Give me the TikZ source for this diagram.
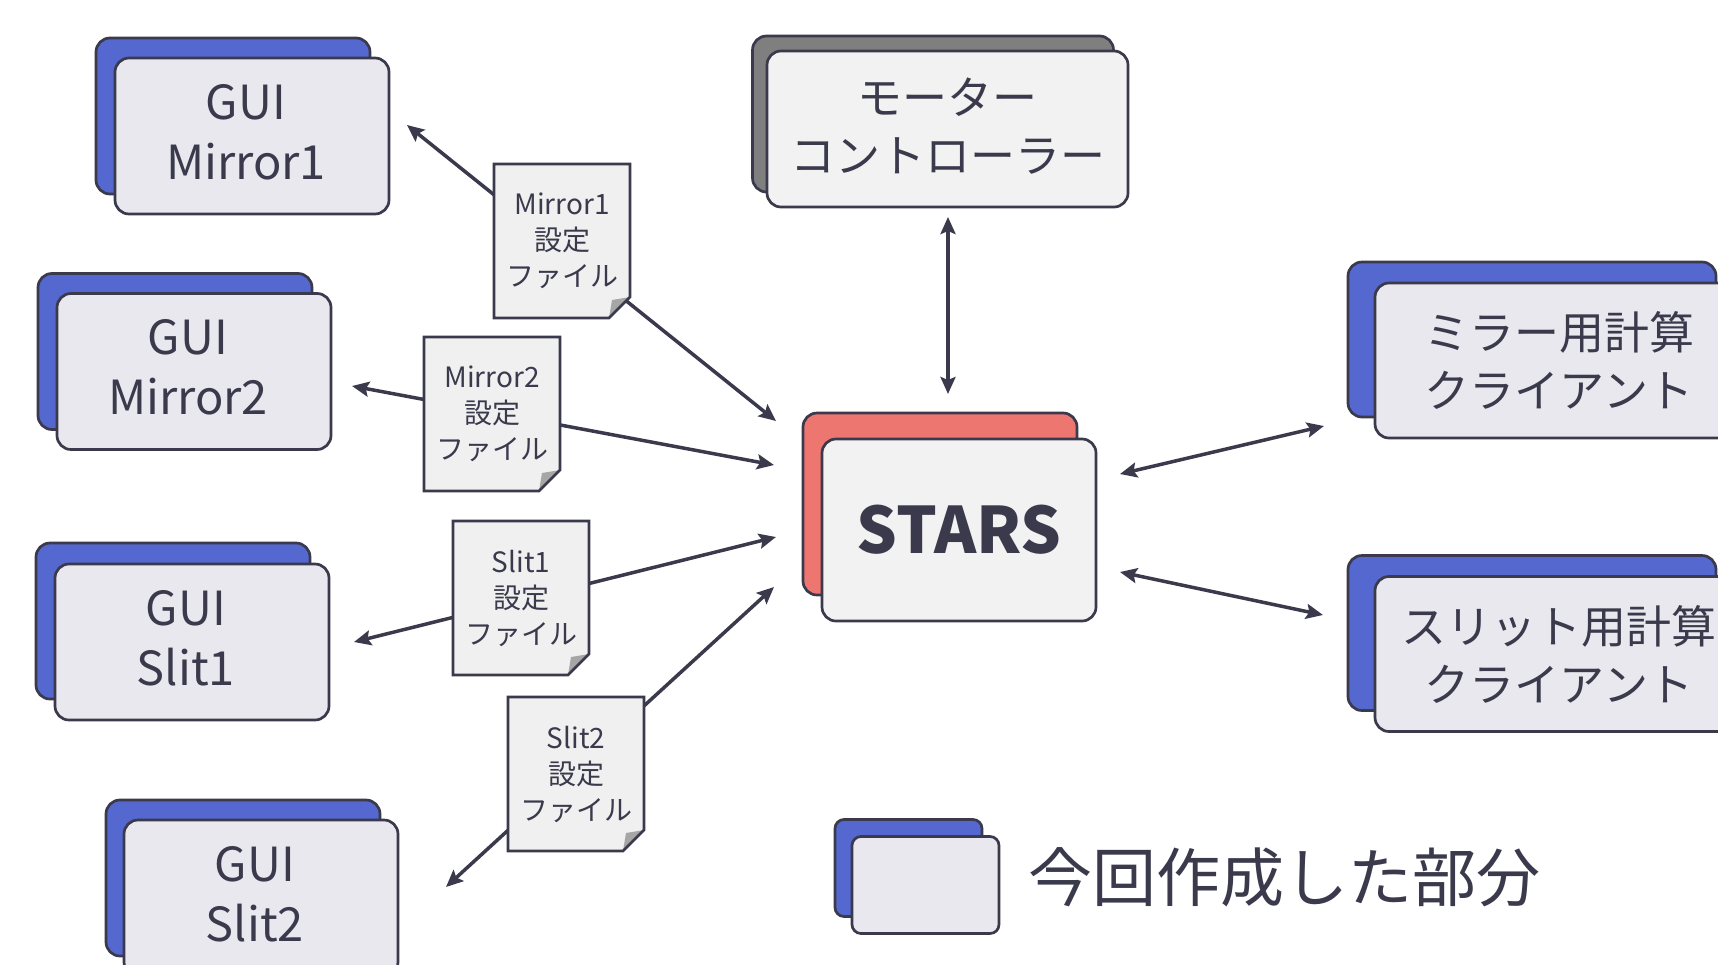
\documentclass[tikz,border=0pt]{standalone}
\usepackage{fontspec}
\setmainfont{Noto Sans CJK JP}
\usetikzlibrary{arrows.meta}
\definecolor{ink}{HTML}{3A3A4C}
\definecolor{myblue}{HTML}{5468CF}
\definecolor{myred}{HTML}{EE7671}
\definecolor{mygray}{HTML}{7F7F7F}
\definecolor{paleblue}{HTML}{E8E8EE}
\definecolor{palegray}{HTML}{F2F2F2}
\definecolor{notefill}{HTML}{F0F0F0}
\definecolor{foldfill}{HTML}{A6A6A6}
\newcommand\notefile[4]{%
  \begin{scope}[shift={(#2,#3)}]
    \fill[notefill] (-68,-77) -- (68,-77) -- (68,56) -- (47,77) -- (-68,77) -- cycle;
    \fill[foldfill] (68,56) -- (47,77) -- (50,59) -- cycle;
    \draw[noteline] (-68,-77) -- (68,-77) -- (68,56) -- (47,77) -- (-68,77) -- cycle;
    \node[notetext] (#1) at (0,0) {#4};
  \end{scope}}
\begin{document}
\begin{tikzpicture}[x=1pt,y=-1pt,
  panel/.style={draw=ink, line width=2.7pt, rounded corners=14pt, inner sep=0pt, text=ink, align=center},
  guisize/.style={minimum width=274pt, minimum height=156pt},
  guiback/.style={panel, guisize, fill=myblue},
  guibox/.style={panel, guisize, fill=paleblue},
  guitext/.style={text=ink, align=center, inner sep=0pt, font=\fontsize{47pt}{60pt}\selectfont},
  clisize/.style={minimum width=368pt, minimum height=155pt},
  cliback/.style={panel, clisize, fill=myblue},
  clibox/.style={panel, clisize, fill=paleblue, font=\fontsize{45pt}{58pt}\selectfont},
  noteline/.style={draw=ink, line width=2.7pt, line join=miter},
  notetext/.style={text=ink, align=center, inner sep=0pt, font=\fontsize{28pt}{36pt}\selectfont},
  conn/.style={draw=ink, line width=3.5pt,
    {Stealth[length=17pt,width=15pt,inset=3pt]}-{Stealth[length=17pt,width=15pt,inset=3pt]}}
]
\useasboundingbox (0,0) rectangle (1718,964);
\clip (0,0) rectangle (1718,964);

% ---- boxes ----
\node[guiback] (gm1b) at (233,116) {};
\node[guibox] (gm1) at (252,136) {};
\node[guitext] (gm1t) at ([shift={(-6,-4)}]gm1.center) {GUI\\Mirror1};
\node[guiback] (gm2b) at (175,351.5) {};
\node[guibox] (gm2) at (194,371.5) {};
\node[guitext] (gm2t) at ([shift={(-6,-4)}]gm2.center) {GUI\\Mirror2};
\node[guiback] (gs1b) at (173,621) {};
\node[guibox] (gs1) at (192,642) {};
\node[guitext] (gs1t) at ([shift={(-6,-4)}]gs1.center) {GUI\\Slit1};
\node[guiback] (gs2b) at (243,878) {};
\node[guibox] (gs2) at (261,898) {};
\node[guitext] (gs2t) at ([shift={(-6,-4)}]gs2.center) {GUI\\Slit2};

\node[panel, fill=mygray, minimum width=361pt, minimum height=156pt] (motb) at (933,114) {};
\node[panel, fill=palegray, minimum width=361pt, minimum height=156pt] (mot) at (947.5,129) {};
\node[text=ink, align=center, inner sep=0pt, font=\fontsize{45pt}{58pt}\selectfont]
      (mott) at ([shift={(0,-3)}]mot.center) {モーター\\コントローラー};

\node[panel, fill=myred, minimum width=274pt, minimum height=182pt] (starsb) at (940,504) {};
\node[panel, fill=palegray, minimum width=274pt, minimum height=182pt,
      font=\fontsize{64pt}{70pt}\selectfont\bfseries] (stars) at (959,530) {STARS};

\node[cliback] (cmb) at (1532,339.5) {};
\node[clibox] (cm) at (1559,360.5) {ミラー用計算\\クライアント};
\node[cliback] (csb) at (1532,633) {};
\node[clibox] (cs) at (1559,654) {スリット用計算\\クライアント};

% ---- connector end points ----
\coordinate (e1a) at (407,125);  \coordinate (e1b) at (776,421);
\coordinate (e2a) at (352,386);  \coordinate (e2b) at (774,465);
\coordinate (e3a) at (354,642);  \coordinate (e3b) at (776,537);
\coordinate (e4a) at (446,887);  \coordinate (e4b) at (774,587);
\coordinate (e5a) at (948,217);  \coordinate (e5b) at (948,394);
\coordinate (e6a) at (1120,474); \coordinate (e6b) at (1324,426);
\coordinate (e7a) at (1120,572); \coordinate (e7b) at (1323,615);

\draw[conn] (e1a) -- (e1b);
\draw[conn] (e2a) -- (e2b);
\draw[conn] (e3a) -- (e3b);
\draw[conn] (e4a) -- (e4b);
\draw[conn] (e5a) -- (e5b);
\draw[conn] (e6a) -- (e6b);
\draw[conn] (e7a) -- (e7b);

% ---- setting files ----
\notefile{f1}{562}{241}{Mirror1\\設定\\ファイル}
\notefile{f2}{492}{414}{Mirror2\\設定\\ファイル}
\notefile{f3}{521}{598}{Slit1\\設定\\ファイル}
\notefile{f4}{576}{774}{Slit2\\設定\\ファイル}

% ---- legend ----
\node[panel, rounded corners=9pt, fill=myblue, minimum width=147pt, minimum height=97pt] (legb) at (908.5,868) {};
\node[panel, rounded corners=9pt, fill=paleblue, minimum width=147pt, minimum height=97pt] (leg) at (925.5,885) {};
\node[anchor=west, text=ink, inner sep=0pt, font=\fontsize{64pt}{70pt}\selectfont] (legtext) at (1028,877) {今回作成した部分};
\end{tikzpicture}
\end{document}
